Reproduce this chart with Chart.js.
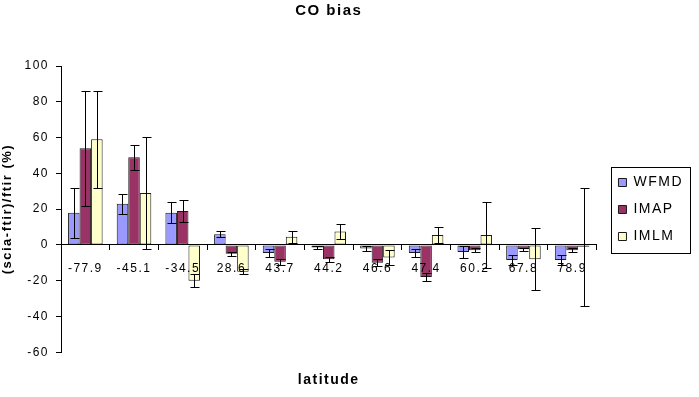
<!DOCTYPE html>
<html>
<head>
<meta charset="utf-8">
<title>CO bias</title>
<script src="https://cdn.jsdelivr.net/npm/chart.js@4/dist/chart.umd.min.js"></script>
<style>
    body { margin: 0; background: #ffffff; }
    canvas { display: block; }
</style>
</head>
<body>
<canvas id="coBias" width="699" height="397"></canvas>
<script>
/*
    CO bias of the SCIAMACHY products against FTIR stations, by latitude.
*/

//Station latitudes (categories)
let latitudes = ["-77.9", "-45.1", "-34.5", "28.6", "43.7", "44.2", "46.6", "47.4", "60.2", "67.8", "78.9"];

//Mean bias (%) per product
let wfmdBias = [18, 23, 18, 6, -4.5, -1.5, -2, -4.5, -4, -8.5, -8.5],
    imapBias = [54, 49, 19, -5, -9.5, -8, -10, -18, -3, -2.5, -3],
    imlmBias = [59, 29, -20, -15, 4.5, 7.5, -7, 5.5, 5.5, -8, -1];

//Error bar half-lengths (%)
let wfmdErr = [14, 5.5, 6, 1.5, 2, 1, 1.5, 2, 3.5, 3, 3],
    imapErr = [32, 7, 6, 1, 1.5, 1.5, 2, 2, 1, 1, 1],
    imlmErr = [27, 31.5, 3.5, 1.5, 3.5, 4, 4, 4.5, 18.5, 17.5, 33];

//Value axis range
let yMin = -60, yMax = 100, yStep = 20;

const FONT = "'Liberation Sans', Arial, sans-serif";

//Makes a bar dataset with its error bars
function barSet(label, data, errors, color){
    return {
        label: label,
        data: data,
        errors: errors,
        backgroundColor: color,
        borderColor: "#1a1a1a",
        borderWidth: 1,
        borderSkipped: false,
        categoryPercentage: 0.71,
        barPercentage: 1.0,
    };
}

//Draws the +/- error bars on top of everything
const errorBars = {
    id: "errorBars",
    afterDraw(chart){
        let ctx = chart.ctx,
            yScale = chart.scales.y;
        ctx.save();
        ctx.strokeStyle = "#000000";
        ctx.lineWidth = 1;
        chart.data.datasets.forEach((ds, i) => {
            let meta = chart.getDatasetMeta(i);
            meta.data.forEach((bar, j) => {
                let v = ds.data[j], e = ds.errors[j];
                let x = Math.round(bar.x) + 0.5,
                    top = Math.round(yScale.getPixelForValue(v + e)) + 0.5,
                    bottom = Math.round(yScale.getPixelForValue(v - e)) + 0.5;
                ctx.beginPath();
                ctx.moveTo(x, top);
                ctx.lineTo(x, bottom);
                ctx.moveTo(x - 4, top);
                ctx.lineTo(x + 5, top);
                ctx.moveTo(x - 4, bottom);
                ctx.lineTo(x + 5, bottom);
                ctx.stroke();
            });
        });
        ctx.restore();
    }
};

//Moves the legend a bit and puts a frame round it
const legendFrame = {
    id: "legendFrame",
    afterLayout(chart){
        let lg = chart.legend;
        lg.left += 9;
        lg.right += 9;
        lg.top += 11;
        lg.bottom += 11;
    },
    afterDraw(chart){
        let boxes = chart.legend.legendHitBoxes;
        if (!boxes || !boxes.length) return;
        let left = Math.min(...boxes.map(b => b.left)) - 7,
            right = Math.max(...boxes.map(b => b.left + b.width)) + 7,
            top = boxes[0].top - 9,
            last = boxes[boxes.length - 1],
            bottom = last.top + last.height + 9;
        let ctx = chart.ctx;
        ctx.save();
        ctx.strokeStyle = "#000000";
        ctx.lineWidth = 1;
        ctx.strokeRect(Math.round(left) + 0.5, Math.round(top) + 0.5, Math.round(right - left), Math.round(bottom - top));
        ctx.restore();
    }
};

//The original text is drawn wide, so space the letters out
const wideText = {
    id: "wideText",
    beforeUpdate(chart){ chart.ctx.letterSpacing = "1.5px"; },
    beforeDraw(chart){ chart.ctx.letterSpacing = "1.5px"; }
};

let coChart = new Chart("coBias", {
    type: "bar",
    data: {
        labels: latitudes,
        datasets: [
            barSet("WFMD", wfmdBias, wfmdErr, "#9999FF"),
            barSet("IMAP", imapBias, imapErr, "#993366"),
            barSet("IMLM", imlmBias, imlmErr, "#FFFFCC"),
        ],
    },
    options: {
        responsive: false,
        animation: false,
        devicePixelRatio: 1,
        layout: {
            padding: { left: 0, right: 15, top: 0, bottom: 0 },
        },
        scales: {
            x: {
                position: { y: 0 },
                grid: {
                    offset: true,
                    drawOnChartArea: false,
                    drawTicks: true,
                    tickLength: 5,
                    color: "#000000",
                    z: 1,
                },
                border: { display: true, color: "#000000", width: 1, z: 1 },
                ticks: {
                    color: "#000000",
                    font: { family: FONT, size: 12 },
                    padding: 12,
                    autoSkip: false,
                    maxRotation: 0,
                    z: 1,
                },
            },
            y: {
                min: yMin,
                max: yMax,
                afterFit: (scale) => { scale.width = 61; },
                grid: {
                    drawOnChartArea: false,
                    drawTicks: true,
                    tickLength: 5,
                    color: "#000000",
                },
                border: { display: true, color: "#000000", width: 1 },
                ticks: {
                    stepSize: yStep,
                    color: "#000000",
                    font: { family: FONT, size: 12 },
                    padding: 7,
                },
                title: {
                    display: true,
                    text: "(scia-ftir)/ftir (%)",
                    color: "#000000",
                    font: { family: FONT, size: 13, weight: "bold" },
                    padding: 0,
                },
            },
        },
        plugins: {
            title: {
                display: true,
                text: "CO bias",
                color: "#000000",
                fullSize: false,
                font: { family: FONT, size: 15, weight: "bold" },
                padding: { top: 2, bottom: 46 },
            },
            subtitle: {
                display: true,
                text: "latitude",
                position: "bottom",
                color: "#000000",
                fullSize: false,
                font: { family: FONT, size: 14, weight: "bold" },
                padding: { top: 20, bottom: 8 },
            },
            legend: {
                display: true,
                position: "right",
                labels: {
                    color: "#000000",
                    font: { family: FONT, size: 14 },
                    boxWidth: 8,
                    boxHeight: 8,
                    padding: 13,
                },
            },
            tooltip: { enabled: false },
        },
    },
    plugins: [errorBars, legendFrame, wideText],
});
</script>
</body>
</html>
